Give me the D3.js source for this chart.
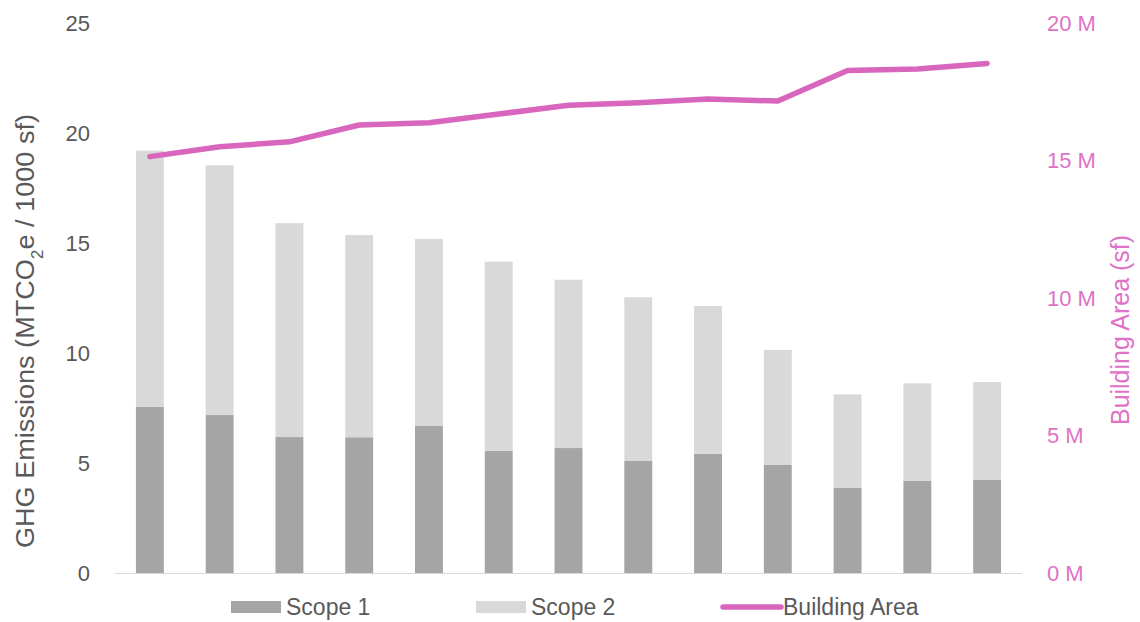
<!DOCTYPE html>
<html>
<meta charset="utf-8">
<head>
  <title>GHG Emissions & Building Area</title>
  <script src="https://d3js.org/d3.v7.min.js"></script>
  <style>
    body { margin: 0; background: #fff; }
    text { font-family: "Liberation Sans", Arial, sans-serif; }
  </style>
</head>
<body>
<div id="my_dataviz"></div>

<script>

// data, one entry per building group (no labels on the x axis)
var categories = ["1","2","3","4","5","6","7","8","9","10","11","12","13"];
var scope1 = [7.55, 7.18, 6.18, 6.17, 6.70, 5.56, 5.68, 5.09, 5.42, 4.91, 3.88, 4.20, 4.23];
var scope2 = [11.65, 11.35, 9.72, 9.19, 8.48, 8.59, 7.65, 7.44, 6.72, 5.23, 4.24, 4.42, 4.45];
var buildingArea = [15.14, 15.50, 15.68, 16.29, 16.37, 16.69, 17.01, 17.10, 17.24, 17.16, 18.27, 18.33, 18.53]; // millions of sf
var leftTicks = [0, 5, 10, 15, 20, 25];
var rightTicks = [0, 5, 10, 15, 20];

var margin = {top: 23, right: 118, bottom: 49, left: 115},
    width = 1140 - margin.left - margin.right,
    height = 622 - margin.top - margin.bottom;

var grey = "#595959", pink = "#D966BD", pinkText = "#DE72C6";

var svg = d3.select("#my_dataviz").append("svg")
    .attr("width", 1140)
    .attr("height", 622)
  .append("g")
    .attr("transform", "translate(" + margin.left + "," + margin.top + ")");

var x = d3.scaleBand()
    .domain(categories)
    .range([0, width])
    .paddingInner(0.6)
    .paddingOuter(0.3);

var y = d3.scaleLinear().domain([0, 25]).range([height, 0]);
var y2 = d3.scaleLinear().domain([0, 20]).range([height, 0]);

// stacked bars
var rows = categories.map(function(c, i) { return {cat: c, s1: scope1[i], s2: scope2[i]}; });
var stack = d3.stack().keys(["s1", "s2"])(rows);
var colors = {s1: "#A5A5A5", s2: "#D9D9D9"};

svg.append("g")
  .selectAll("g")
  .data(stack)
  .enter().append("g")
    .attr("fill", function(d) { return colors[d.key]; })
  .selectAll("rect")
  .data(function(d) { return d; })
  .enter().append("rect")
    .attr("x", function(d) { return x(d.data.cat); })
    .attr("y", function(d) { return y(d[1]); })
    .attr("height", function(d) { return y(d[0]) - y(d[1]); })
    .attr("width", x.bandwidth());

// baseline
svg.append("line")
  .attr("x1", 0).attr("x2", width)
  .attr("y1", height + 0.5).attr("y2", height + 0.5)
  .attr("stroke", "#D9D9D9")
  .attr("stroke-width", 1);

// left axis
var yAxis = svg.append("g")
  .call(d3.axisLeft(y).tickValues(leftTicks).tickSize(0).tickPadding(25));
yAxis.select(".domain").remove();
yAxis.selectAll("text")
  .attr("fill", grey)
  .style("font-size", "22px");

// right axis
var y2Axis = svg.append("g")
  .attr("transform", "translate(" + width + ",0)")
  .call(d3.axisRight(y2).tickValues(rightTicks).tickSize(0).tickPadding(25)
        .tickFormat(function(d) { return d + " M"; }));
y2Axis.select(".domain").remove();
y2Axis.selectAll("text")
  .attr("fill", pinkText)
  .style("font-size", "22px");

// building area line
var line = d3.line()
  .x(function(d, i) { return x(categories[i]) + x.bandwidth() / 2; })
  .y(function(d) { return y2(d); });

svg.append("path")
  .datum(buildingArea)
  .attr("d", line)
  .attr("fill", "none")
  .attr("stroke", pink)
  .attr("stroke-width", 5.5)
  .attr("stroke-linecap", "round")
  .attr("stroke-linejoin", "round");

// axis titles (the original uses a taller, narrow face; stretched to the same length)
var leftTitle = svg.append("text")
  .attr("transform", "translate(" + (25 - margin.left) + "," + (331 - margin.top) + ") rotate(-90)")
  .attr("text-anchor", "middle")
  .attr("dy", "0.35em")
  .attr("textLength", 434)
  .attr("lengthAdjust", "spacingAndGlyphs")
  .attr("fill", grey)
  .style("font-size", "25px");
leftTitle.append("tspan").text("GHG Emissions (MTCO");
leftTitle.append("tspan").attr("baseline-shift", "sub").style("font-size", "16px").text("2");
leftTitle.append("tspan").text("e / 1000 sf)");

svg.append("text")
  .attr("transform", "translate(" + (1120 - margin.left) + "," + (330 - margin.top) + ") rotate(-90)")
  .attr("text-anchor", "middle")
  .attr("dy", "0.35em")
  .attr("textLength", 190)
  .attr("lengthAdjust", "spacingAndGlyphs")
  .attr("fill", pinkText)
  .style("font-size", "25px")
  .text("Building Area (sf)");

// legend
var legend = svg.append("g").attr("transform", "translate(0," + (height + 34) + ")");
var legendItems = [
  {label: "Scope 1", type: "rect", color: colors.s1, x: 116},
  {label: "Scope 2", type: "rect", color: colors.s2, x: 361},
  {label: "Building Area", type: "line", color: pink, x: 606}
];
legendItems.forEach(function(d) {
  var g = legend.append("g").attr("transform", "translate(" + d.x + ",0)");
  if (d.type === "rect") {
    g.append("rect").attr("x", 0).attr("y", -6).attr("width", 50).attr("height", 12).attr("fill", d.color);
  } else {
    g.append("line").attr("x1", 2).attr("x2", 60).attr("y1", 0).attr("y2", 0)
      .attr("stroke", d.color).attr("stroke-width", 5.5).attr("stroke-linecap", "round");
  }
  g.append("text")
    .attr("x", d.type === "rect" ? 55 : 62)
    .attr("dy", "0.35em")
    .attr("fill", grey)
    .style("font-size", "23px")
    .text(d.label);
});

</script>
</body>
</html>
